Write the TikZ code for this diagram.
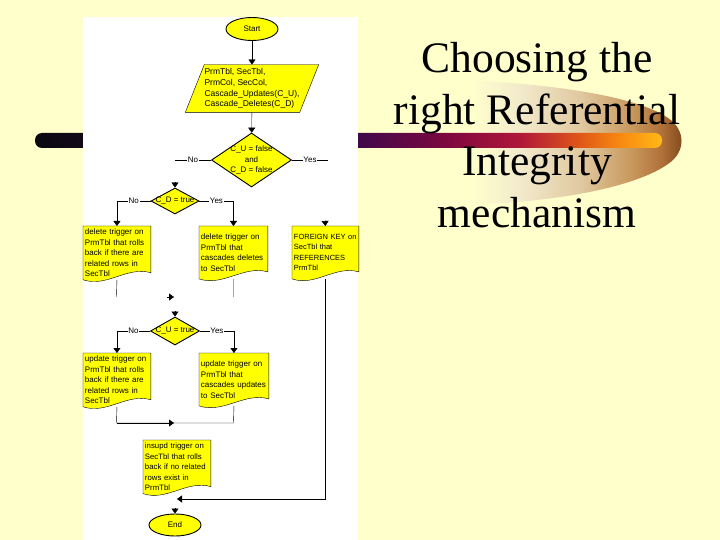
\documentclass[tikz,border=0pt]{standalone}
\usepackage{fontspec}
\setmainfont{Liberation Serif}
\newfontfamily\flowfont{Liberation Sans}
\usetikzlibrary{shapes.geometric,arrows.meta,calc}
\definecolor{bgyellow}{HTML}{FFFFCC}
\definecolor{boxyellow}{HTML}{FFFF00}
\definecolor{barA}{HTML}{0A0810}
\definecolor{barB}{HTML}{40084A}
\definecolor{barC}{HTML}{80083F}
\definecolor{barD}{HTML}{B01838}
\definecolor{barE}{HTML}{E05818}
\definecolor{barF}{HTML}{F88810}
\definecolor{barG}{HTML}{FFB818}
\definecolor{swA}{HTML}{FFFFCC}
\definecolor{swB}{HTML}{F2EACB}
\definecolor{swC}{HTML}{E0C8A0}
\definecolor{swD}{HTML}{C8985C}
\definecolor{swE}{HTML}{B07038}
\definecolor{swF}{HTML}{7A4418}
\pgfdeclarehorizontalshading{barshade}{100bp}{color(0bp)=(barA); color(25bp)=(barA); color(50.8bp)=(barB); color(58.1bp)=(barC); color(63.7bp)=(barD); color(68.5bp)=(barE); color(71.6bp)=(barF); color(75bp)=(barG); color(100bp)=(barG)}
\pgfdeclarehorizontalshading{swooshshade}{100bp}{color(0bp)=(swA); color(33bp)=(swA); color(42.7bp)=(swB); color(54.5bp)=(swC); color(64.4bp)=(swD); color(70.3bp)=(swE); color(75bp)=(swF); color(100bp)=(swF)}
\pgfdeclarelayer{bg}\pgfdeclarelayer{conn}\pgfdeclarelayer{shp}
\pgfsetlayers{bg,conn,shp,main}
\newcommand{\docwave}[1]{\filldraw[fill=boxyellow,draw=black] (#1.south west) -- (#1.north west) -- (#1.north east) -- ($(#1.south east)+(0,-7)$) .. controls ($(#1.south east)!0.35!(#1.south west)+(0,-14)$) and ($(#1.south east)!0.65!(#1.south west)+(0,8)$) .. (#1.south west) -- cycle;}
\begin{document}
\begin{tikzpicture}[x=1pt,y=-1pt,line width=0.9pt,
  tip/.style={-{Triangle[length=5pt,width=7pt]}},
  fc/.style={font=\flowfont\fontsize{8}{10.5}\selectfont},
  bc/.style={font=\flowfont\fontsize{8}{10.5}\selectfont},
  term/.style={ellipse,draw,fill=boxyellow,fc,inner sep=0pt},
  dec/.style={diamond,draw,fill=boxyellow,inner sep=0pt},
  docbox/.style={bc,anchor=north west,align=left,text width=#1,inner xsep=1.5pt,inner ysep=2.5pt,minimum height=52pt,execute at begin node={\hyphenpenalty=10000\exhyphenpenalty=10000}},
  lbl/.style={fc,fill=white,inner sep=0.8pt},
  title/.style={font=\fontsize{43.5}{52}\selectfont,anchor=base,inner sep=0pt}]
\useasboundingbox (0,0) rectangle (720,540);
% flowchart nodes
\node[term,minimum width=52pt,minimum height=23pt] (start) at (252,29) {Start};
\node[font=\flowfont\fontsize{8.5}{10.8}\selectfont,align=left,minimum width=113.5pt,minimum height=47pt,inner sep=0pt] (inp) at (252,88.5) {PrmTbl, SecTbl,\\PrmCol, SecCol,\\Cascade\_Updates(C\_U),\\Cascade\_Deletes(C\_D)};
\node[dec,minimum width=80pt,minimum height=54pt] (d1) at (251.5,160) {};
\node[fc,align=center,inner sep=0pt] (d1t) at (d1) {C\_U = false\\and\\C\_D = false};
\node[dec,minimum width=48pt,minimum height=26pt] (d2) at (175,201) {};
\node[fc,inner sep=0pt] (d2t) at (d2) {C\_D = true};
\node[docbox=64] (b1) at (83,226) {delete trigger on\\PrmTbl that rolls\\back if there are\\related rows in\\SecTbl};
\node[docbox=65] (b2) at (199,226) {delete trigger on\\PrmTbl that\\cascades deletes\\to SecTbl};
\node[docbox=63,font=\flowfont\fontsize{7.5}{10.5}\selectfont] (b3) at (292,226) {FOREIGN KEY on\\SecTbl that\\REFERENCES\\PrmTbl};
\node[dec,minimum width=49pt,minimum height=28pt] (d3) at (175,331) {};
\node[fc,inner sep=0pt] (d3t) at (d3) {C\_U = true};
\node[docbox=64] (b4) at (83,353) {update trigger on\\PrmTbl that rolls\\back if there are\\related rows in\\SecTbl};
\node[docbox=66] (b5) at (199,353) {update trigger on\\PrmTbl that\\cascades updates\\to SecTbl};
\node[docbox=64,font=\flowfont\fontsize{7.8}{10.5}\selectfont] (b6) at (143,440) {insupd trigger on\\SecTbl that rolls\\back if no related\\rows exist in\\PrmTbl};
\node[term,minimum width=52pt,minimum height=22pt] (end) at (175,525) {End};
% title
\node[title] (t1) at (537,73) {Choosing the};
\node[title] (t2) at (537,124.5) {right Referential};
\node[title] (t3) at (537,176) {Integrity};
\node[title] (t4) at (537,227.5) {mechanism};
% free coordinates
\coordinate (n1) at (175,160);
\coordinate (y1) at (328,160);
\coordinate (a2) at (175,182);
\coordinate (a3) at (325,220);
\coordinate (e1) at (116.5,297);
\coordinate (e2) at (233.5,297);
\coordinate (r1) at (167,297);
\coordinate (r2) at (174,297);
\coordinate (a4) at (175,311);
\coordinate (j4) at (116.5,423);
\coordinate (j5) at (233.5,423);
\coordinate (m45) at (174,423);
\coordinate (c3) at (177,499);
\coordinate (a5) at (175,508);
% background
\begin{pgfonlayer}{bg}
\fill[bgyellow] (0,0) rectangle (720,540);
\shade[shading=swooshshade] (462,80) .. controls (560,84) and (640,98) .. (668,118) .. controls (686,130) and (686,152) .. (668,164) .. controls (640,184) and (570,202) .. (462,205) .. controls (430,180) and (430,105) .. cycle;
\shade[shading=barshade,rounded corners=7pt] (35,133) rectangle (662,148);
\fill[white] (83,17) rectangle (358,540);
\end{pgfonlayer}
% shapes behind text
\begin{pgfonlayer}{shp}
\filldraw[fill=boxyellow,draw=black] ($(inp.north west)+(9.5,0)$) -- ($(inp.north east)+(9.5,0)$) -- ($(inp.south east)+(-9.5,0)$) -- ($(inp.south west)+(-9.5,0)$) -- cycle;
\docwave{b1}\docwave{b2}\docwave{b3}\docwave{b4}\docwave{b5}\docwave{b6}
\end{pgfonlayer}
% connectors
\begin{pgfonlayer}{conn}
\draw[tip] (start) -- (inp);
\draw[tip] (inp) -- (d1);
\draw (d1.west) -- node[lbl]{No} (n1);
\draw (d1.east) -- node[lbl]{Yes} (y1);
\draw[tip] (a2) -- (d2.north);
\draw[tip] (d2.west) -| node[lbl,pos=.25]{No} (b1.north);
\draw[tip] (d2.east) -| node[lbl,pos=.25]{Yes} (b2.north);
\draw[tip] (a3) -- (b3.north);
\draw (b1.south) -- (e1);
\draw (b2.south) -- (e2);
\draw[tip] (r1) -- (r2);
\draw[tip] (a4) -- (d3.north);
\draw[tip] (d3.west) -| node[lbl,pos=.25]{No} (b4.north);
\draw[tip] (d3.east) -| node[lbl,pos=.25]{Yes} (b5.north);
\draw (b4.south) -- (j4) -- (j5) -- (b5.south);
\draw[tip] (j4) -- (m45);
\draw[tip] (b3.south) |- (c3);
\draw[tip] (a5) -- (end);
\end{pgfonlayer}
\end{tikzpicture}
\end{document}
